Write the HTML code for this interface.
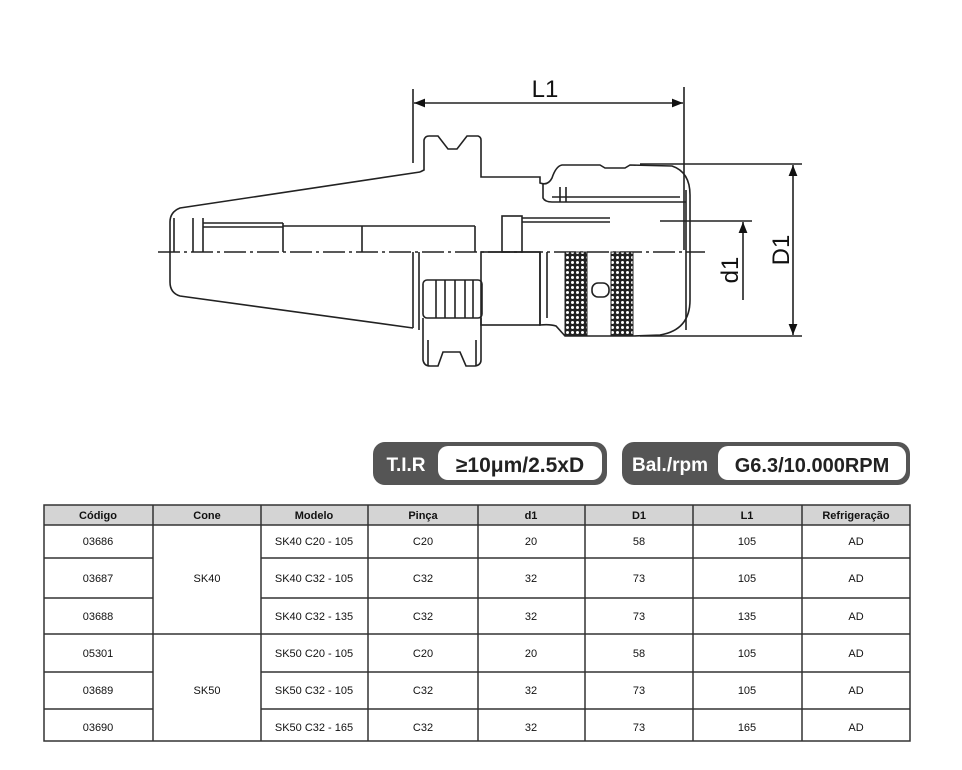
<!DOCTYPE html>
<html><head><meta charset="utf-8"><style>
html,body{margin:0;padding:0;background:#fff;}
svg{display:block;}
</style></head><body>
<svg width="962" height="770" viewBox="0 0 962 770" xmlns="http://www.w3.org/2000/svg" font-family="'Liberation Sans', sans-serif">
<defs>
<pattern id="kn" width="5" height="5" patternUnits="userSpaceOnUse">
<rect width="5" height="5" fill="#222"/>
<circle cx="2.5" cy="2.5" r="1.5" fill="#fff"/>
</pattern>
<marker id="ar" viewBox="0 0 10 10" refX="10" refY="5" markerWidth="7" markerHeight="7" orient="auto-start-reverse"><path d="M0,1 L10,5 L0,9 z" fill="#111"/></marker>
</defs>
<g fill="none" stroke="#222" stroke-width="1.6">
<!-- dimension L1 -->
<line x1="413" y1="89" x2="413" y2="163"/>
<line x1="684" y1="87" x2="684" y2="250"/>
<line x1="414" y1="103" x2="683" y2="103" marker-start="url(#ar)" marker-end="url(#ar)"/>
<!-- centerline -->
<line x1="158" y1="252" x2="705" y2="252" stroke-dasharray="22,4,3,4"/>
<!-- cone -->
<path d="M420,172 L180,208 Q170,212 170,222 L170,282 Q170,293 180,296 L413,328"/>
<line x1="174" y1="218" x2="174" y2="252"/>
<line x1="193" y1="218" x2="193" y2="252"/>
<line x1="203" y1="218" x2="203" y2="252"/>
<line x1="203" y1="223" x2="283" y2="223"/>
<line x1="203" y1="227" x2="283" y2="227"/>
<line x1="283" y1="223" x2="283" y2="252"/>
<line x1="283" y1="226" x2="475" y2="226"/>
<line x1="362" y1="226" x2="362" y2="252"/>
<line x1="475" y1="226" x2="475" y2="252"/>
<rect x="502" y="216" width="20" height="36"/>
<line x1="522" y1="222" x2="610" y2="222"/>
<line x1="522" y1="218" x2="610" y2="218"/>
<line x1="413" y1="252" x2="413" y2="328"/>
<line x1="419" y1="252" x2="419" y2="330"/>
<!-- flange -->
<path d="M420,172 L424,170 L424,140 Q425,136 429,136 L438,136 L448,149 L457,149 L467,136 L478,136 Q481,137 481,140 L481,177 L540,177 L540,183 Q548,186 552,178 Q556,166 562,165 L600,165 L605,168 L625,168 L630,165 L672,166 Q690,172 690,195 L690,300 Q690,330 660,335 L633,336"/>
<path d="M543,183 L543,198 Q545,202 552,202 L686,202"/>
<line x1="552" y1="197" x2="680" y2="197"/>
<line x1="560" y1="187" x2="560" y2="202"/>
<line x1="566" y1="187" x2="566" y2="202"/>
<line x1="686" y1="190" x2="686" y2="330"/>
<!-- lower flange -->
<path d="M423,318 L423,360 Q424,366 430,366 L438,366 L443,352 L460,352 L466,366 L475,366 Q481,365 481,360 L481,318"/>
<rect x="423" y="280" width="59" height="38" rx="4"/>
<line x1="436" y1="280" x2="436" y2="318"/>
<line x1="445" y1="280" x2="445" y2="318"/>
<line x1="455" y1="280" x2="455" y2="318"/>
<line x1="465" y1="280" x2="465" y2="318"/>
<line x1="473" y1="280" x2="473" y2="318"/>
<line x1="428" y1="340" x2="428" y2="366"/>
<line x1="476" y1="340" x2="476" y2="366"/>
<!-- body -->
<rect x="481" y="252" width="59" height="73"/>
<path d="M540,252 L540,325 Q550,324 556,326 L565,336 L633,336"/>
<line x1="547" y1="252" x2="547" y2="318"/>
<rect x="592" y="283" width="17" height="14" rx="6"/>
<!-- D1 -->
<line x1="640" y1="164" x2="802" y2="164"/>
<line x1="640" y1="336" x2="802" y2="336"/>
<line x1="793" y1="165" x2="793" y2="335" marker-start="url(#ar)" marker-end="url(#ar)"/>
<!-- d1 -->
<line x1="660" y1="221" x2="752" y2="221"/>
<line x1="743" y1="300" x2="743" y2="222" marker-end="url(#ar)"/>
</g>
<rect x="565" y="252" width="22" height="84" fill="url(#kn)" stroke="#222"/>
<rect x="611" y="252" width="22" height="84" fill="url(#kn)" stroke="#222"/>
<text x="545" y="97" font-size="24" text-anchor="middle" fill="#111">L1</text>
<text transform="translate(789,250) rotate(-90)" font-size="24" text-anchor="middle" fill="#111">D1</text>
<text transform="translate(738,270) rotate(-90)" font-size="24" text-anchor="middle" fill="#111">d1</text>
<!-- badges -->
<rect x="373" y="442" width="234" height="43" rx="12" fill="#555"/>
<rect x="438" y="446" width="164" height="34" rx="10" fill="#fff"/>
<text x="406" y="471" font-size="19" font-weight="bold" fill="#fff" text-anchor="middle">T.I.R</text>
<text x="520" y="472" font-size="21" font-weight="bold" fill="#222" text-anchor="middle">≥10μm/2.5xD</text>
<rect x="622" y="442" width="288" height="43" rx="12" fill="#555"/>
<rect x="718" y="446" width="188" height="34" rx="10" fill="#fff"/>
<text x="670" y="471" font-size="19" font-weight="bold" fill="#fff" text-anchor="middle">Bal./rpm</text>
<text x="812" y="472" font-size="20" font-weight="bold" fill="#222" text-anchor="middle">G6.3/10.000RPM</text>
<!-- table -->
<rect x="44" y="505" width="866" height="20" fill="#d4d4d4"/>
<g stroke="#333" stroke-width="1.5" fill="none">
<rect x="44" y="505" width="866" height="236"/>
<line x1="44" y1="525" x2="910" y2="525"/>
<line x1="44" y1="558" x2="153" y2="558"/><line x1="261" y1="558" x2="910" y2="558"/>
<line x1="44" y1="598" x2="153" y2="598"/><line x1="261" y1="598" x2="910" y2="598"/>
<line x1="44" y1="634" x2="910" y2="634"/>
<line x1="44" y1="672" x2="153" y2="672"/><line x1="261" y1="672" x2="910" y2="672"/>
<line x1="44" y1="709" x2="153" y2="709"/><line x1="261" y1="709" x2="910" y2="709"/>
<line x1="153" y1="505" x2="153" y2="741"/>
<line x1="261" y1="505" x2="261" y2="741"/>
<line x1="368" y1="505" x2="368" y2="741"/>
<line x1="478" y1="505" x2="478" y2="741"/>
<line x1="585" y1="505" x2="585" y2="741"/>
<line x1="693" y1="505" x2="693" y2="741"/>
<line x1="802" y1="505" x2="802" y2="741"/>
</g>
<g font-size="11" text-anchor="middle" fill="#111">
<g font-weight="bold">
<text x="98" y="519">Código</text><text x="207" y="519">Cone</text><text x="314" y="519">Modelo</text><text x="423" y="519">Pinça</text><text x="531" y="519">d1</text><text x="639" y="519">D1</text><text x="747" y="519">L1</text><text x="856" y="519">Refrigeração</text>
</g>
<text x="207" y="582">SK40</text><text x="207" y="694">SK50</text>
<text x="98" y="545">03686</text><text x="314" y="545">SK40 C20 - 105</text><text x="423" y="545">C20</text><text x="531" y="545">20</text><text x="639" y="545">58</text><text x="747" y="545">105</text><text x="856" y="545">AD</text>
<text x="98" y="582">03687</text><text x="314" y="582">SK40 C32 - 105</text><text x="423" y="582">C32</text><text x="531" y="582">32</text><text x="639" y="582">73</text><text x="747" y="582">105</text><text x="856" y="582">AD</text>
<text x="98" y="620">03688</text><text x="314" y="620">SK40 C32 - 135</text><text x="423" y="620">C32</text><text x="531" y="620">32</text><text x="639" y="620">73</text><text x="747" y="620">135</text><text x="856" y="620">AD</text>
<text x="98" y="657">05301</text><text x="314" y="657">SK50 C20 - 105</text><text x="423" y="657">C20</text><text x="531" y="657">20</text><text x="639" y="657">58</text><text x="747" y="657">105</text><text x="856" y="657">AD</text>
<text x="98" y="694">03689</text><text x="314" y="694">SK50 C32 - 105</text><text x="423" y="694">C32</text><text x="531" y="694">32</text><text x="639" y="694">73</text><text x="747" y="694">105</text><text x="856" y="694">AD</text>
<text x="98" y="731">03690</text><text x="314" y="731">SK50 C32 - 165</text><text x="423" y="731">C32</text><text x="531" y="731">32</text><text x="639" y="731">73</text><text x="747" y="731">165</text><text x="856" y="731">AD</text>
</g>
</svg>
</body></html>
